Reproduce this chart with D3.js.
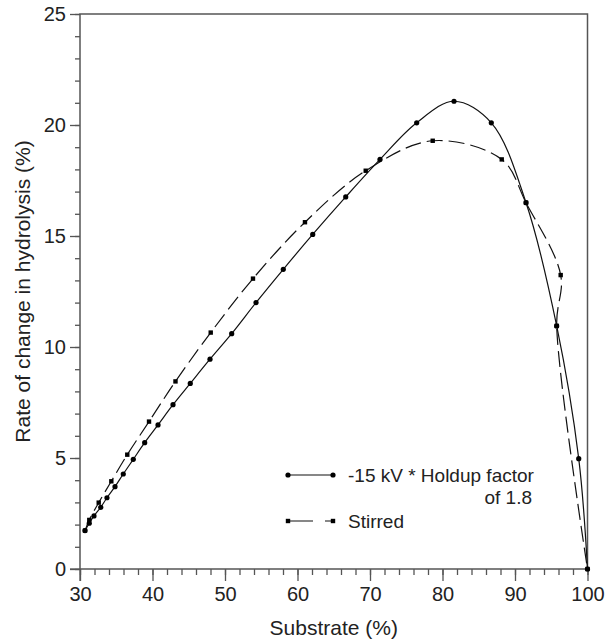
<!DOCTYPE html>
<html><head><meta charset="utf-8">
<script src="https://cdn.jsdelivr.net/npm/d3@7"></script>
<style>body{margin:0;background:#fff}svg{display:block;font-family:"Liberation Sans",Arial,sans-serif}</style>
</head><body><svg id="c" width="613" height="641"></svg>
<script>
const xTicks = [30,40,50,60,70,80,90,100];
const yTicks = [0,5,10,15,20,25];
const holdupX = [30.69,31.28,31.93,32.86,33.72,34.83,35.97,37.35,38.92,40.76,42.83,45.21,47.93,50.92,54.28,58.04,62.10,66.65,71.38,76.44,81.59,86.73,91.52,95.75,98.79,100];
const holdupY = [1.73,2.06,2.39,2.78,3.21,3.71,4.28,4.94,5.69,6.49,7.40,8.36,9.45,10.6,12.0,13.5,15.07,16.76,18.45,20.1,21.07,20.1,16.5,10.95,4.97,0];
const stirredX = [30.69,31.28,32.58,34.32,36.52,39.52,43.17,48.03,53.86,61.03,69.41,78.65,88.17,91.52,96.30,95.75,100];
const stirredY = [1.73,2.21,2.99,3.95,5.15,6.64,8.45,10.65,13.08,15.62,17.94,19.29,18.45,16.5,13.24,10.95,0];
const legendLabels = ["-15 kV * Holdup factor","of 1.8","Stirred"];
const xTitle = "Substrate (%)";
const yTitle = "Rate of change in hydrolysis (%)";

const svg = d3.select("#c");
const L=80,R=587.5,T=14,B=569;
const x = d3.scaleLinear().domain([30,100]).range([L,R]);
const y = d3.scaleLinear().domain([0,25]).range([B,T]);
const axisCol="#555";

const gx = svg.append("g").attr("transform",`translate(0,${B})`);
gx.call(d3.axisBottom(x).tickValues(d3.range(30,101,2)).tickSize(6).tickFormat(""));
const gx2 = svg.append("g").attr("transform",`translate(0,${B})`);
gx2.call(d3.axisBottom(x).tickValues(xTicks).tickSize(12).tickPadding(3).tickFormat(d3.format("d")));
const gy = svg.append("g").attr("transform",`translate(${L},0)`);
gy.call(d3.axisLeft(y).tickValues(d3.range(0,26,1)).tickSize(5).tickFormat(""));
const gy2 = svg.append("g").attr("transform",`translate(${L},0)`);
gy2.call(d3.axisLeft(y).tickValues(yTicks).tickSize(10).tickPadding(4).tickFormat(d3.format("d")));
svg.selectAll(".domain").remove();
svg.selectAll(".tick line").attr("stroke",axisCol).attr("stroke-width",1.3);
svg.selectAll(".tick text").attr("font-size",20).attr("fill","#222").attr("font-family","Liberation Sans, Arial, sans-serif");
gx2.selectAll(".tick text").attr("dy","0.85em");
svg.append("rect").attr("x",L).attr("y",T).attr("width",R-L).attr("height",B-T)
  .attr("fill","none").attr("stroke",axisCol).attr("stroke-width",1.5);
svg.append("line").attr("x1",L).attr("x2",L).attr("y1",B).attr("y2",B+12).attr("stroke",axisCol).attr("stroke-width",1.3);
svg.append("line").attr("x1",L-10).attr("x2",L).attr("y1",B).attr("y2",B).attr("stroke",axisCol).attr("stroke-width",1.3);

const line = d3.line().x(d=>x(d[0])).y(d=>y(d[1])).curve(d3.curveCatmullRom.alpha(0.5));
const hd = holdupX.map((v,i)=>[v,holdupY[i]]);
const sd = stirredX.map((v,i)=>[v,stirredY[i]]);
svg.append("path").attr("d",line(sd)).attr("fill","none").attr("stroke","#111").attr("stroke-width",1.2).attr("stroke-dasharray","16,6");
svg.append("path").attr("d",line(hd)).attr("fill","none").attr("stroke","#111").attr("stroke-width",1.2);
svg.append("g").selectAll("rect").data(sd).join("rect")
  .attr("x",d=>x(d[0])-2.2).attr("y",d=>y(d[1])-2.2).attr("width",4.4).attr("height",4.4).attr("fill","#000");
svg.append("g").selectAll("circle").data(hd).join("circle")
  .attr("cx",d=>x(d[0])).attr("cy",d=>y(d[1])).attr("r",2.6).attr("fill","#000");

const lg = svg.append("g");
lg.append("line").attr("x1",288).attr("x2",333).attr("y1",475).attr("y2",475).attr("stroke","#111").attr("stroke-width",1.2);
lg.selectAll("circle").data([288,333]).join("circle").attr("cx",d=>d).attr("cy",475).attr("r",2.6).attr("fill","#000");
lg.append("line").attr("x1",288).attr("x2",333).attr("y1",521).attr("y2",521).attr("stroke","#111").attr("stroke-width",1.2).attr("stroke-dasharray","25,12,8");
lg.selectAll("rect").data([288,333]).join("rect").attr("x",d=>d-2.2).attr("y",518.8).attr("width",4.4).attr("height",4.4).attr("fill","#000");
lg.append("text").attr("x",348).attr("y",482).attr("font-size",19).attr("fill","#222").text(legendLabels[0]);
lg.append("text").attr("x",532).attr("y",504).attr("font-size",19).attr("fill","#222").attr("text-anchor","end").text(legendLabels[1]);
lg.append("text").attr("x",348).attr("y",528).attr("font-size",19).attr("fill","#222").text(legendLabels[2]);

svg.append("text").attr("x",(L+R)/2).attr("y",635).attr("text-anchor","middle").attr("font-size",21).attr("fill","#222").text(xTitle);
svg.append("text").attr("transform",`translate(30,${(T+B)/2}) rotate(-90)`).attr("text-anchor","middle").attr("font-size",21).attr("fill","#222").text(yTitle);
</script></body></html>
